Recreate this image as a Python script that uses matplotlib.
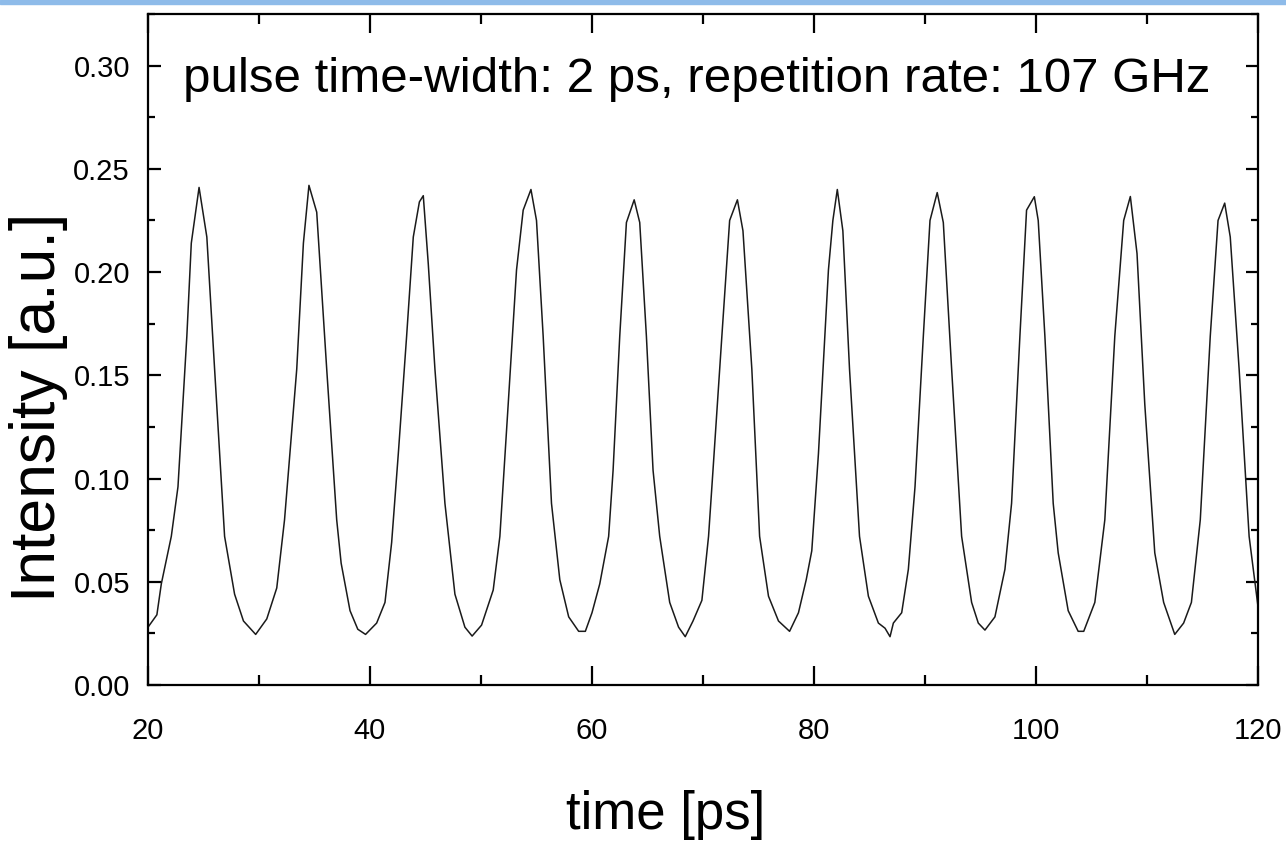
import matplotlib
matplotlib.use("Agg")
import matplotlib.pyplot as plt
from matplotlib.patches import Rectangle
from matplotlib.ticker import MultipleLocator, FormatStrFormatter

time_ps = [
    20.0, 20.8, 21.2, 22.1, 22.7, 23.5, 23.9, 24.6, 25.3, 26.0, 26.9, 27.8, 28.6,
    29.7, 30.7, 31.6, 32.3, 33.4, 34.0, 34.5, 35.2, 36.1, 37.0, 37.4, 38.2, 38.9,
    39.6, 40.6, 41.35, 41.95, 42.55, 43.3, 43.9, 44.45, 44.8, 45.25, 45.85, 46.75,
    47.65, 48.55, 49.2, 50.05, 51.1, 51.7, 52.45, 53.2, 53.8, 54.5, 55.0, 55.6,
    56.35, 57.1, 57.9, 58.8, 59.4, 60.0, 60.7, 61.5, 61.9, 62.5, 63.1, 63.8, 64.3,
    64.9, 65.5, 66.1, 67.0, 67.8, 68.4, 69.1, 69.9, 70.5, 70.9, 71.7, 72.4, 73.1,
    73.6, 74.4, 75.1, 75.9, 76.8, 77.8, 78.6, 79.3, 79.8, 80.4, 81.3, 81.7, 82.1,
    82.6, 83.2, 84.1, 84.9, 85.8, 86.4, 86.85, 87.15, 87.9, 88.5, 89.1, 89.85,
    90.45, 91.1, 91.65, 92.4, 93.3, 94.2, 94.8, 95.4, 96.3, 97.2, 97.8, 98.55,
    99.15, 99.85, 100.2, 100.8, 101.55, 102.0, 102.9, 103.8, 104.3, 105.3, 106.2,
    107.1, 107.9, 108.5, 109.1, 109.8, 110.7, 111.5, 112.5, 113.3, 114.0, 114.8,
    115.7, 116.4, 117.0, 117.5, 118.3, 119.2, 120.0,
]
intensity = [
    0.028, 0.034, 0.049, 0.072, 0.096, 0.169, 0.214, 0.241, 0.217, 0.153, 0.072,
    0.044, 0.031, 0.0245, 0.032, 0.047, 0.080, 0.153, 0.214, 0.242, 0.229, 0.153,
    0.080, 0.059, 0.036, 0.027, 0.0245, 0.030, 0.040, 0.069, 0.112, 0.169, 0.217,
    0.234, 0.237, 0.204, 0.153, 0.088, 0.044, 0.028, 0.0237, 0.029, 0.046, 0.072,
    0.136, 0.201, 0.230, 0.240, 0.225, 0.169, 0.088, 0.051, 0.033, 0.026, 0.026,
    0.035, 0.049, 0.072, 0.104, 0.169, 0.224, 0.235, 0.224, 0.169, 0.104, 0.072,
    0.040, 0.028, 0.0234, 0.031, 0.041, 0.072, 0.104, 0.169, 0.225, 0.235, 0.220,
    0.153, 0.072, 0.043, 0.031, 0.026, 0.035, 0.051, 0.065, 0.112, 0.201, 0.225,
    0.240, 0.220, 0.153, 0.072, 0.043, 0.030, 0.0275, 0.0234, 0.030, 0.035, 0.056,
    0.096, 0.169, 0.225, 0.2385, 0.224, 0.153, 0.072, 0.040, 0.030, 0.0266, 0.033,
    0.056, 0.088, 0.169, 0.230, 0.2365, 0.225, 0.169, 0.088, 0.064, 0.036, 0.026,
    0.026, 0.040, 0.080, 0.169, 0.225, 0.2366, 0.209, 0.136, 0.064, 0.040, 0.0245,
    0.030, 0.040, 0.080, 0.169, 0.225, 0.2334, 0.217, 0.153, 0.072, 0.038,
]

title_text = "pulse time-width: 2 ps, repetition rate: 107 GHz"
xlabel_text = "time [ps]"
ylabel_text = "Intensity [a.u.]"

plt.rcParams['font.family'] = ['Liberation Sans', 'DejaVu Sans']

fig = plt.figure(figsize=(12.86, 8.48), dpi=100)
ax = fig.add_axes([148 / 1286, 1 - 685 / 848, 1110 / 1286, 671 / 848])

ax.plot(time_ps, intensity, color='#1a1a1a', lw=1.1)

ax.set_xlim(20, 120)
ax.set_ylim(0, 0.325)
ax.xaxis.set_major_locator(MultipleLocator(20))
ax.xaxis.set_minor_locator(MultipleLocator(10))
ax.yaxis.set_major_locator(MultipleLocator(0.05))
ax.yaxis.set_minor_locator(MultipleLocator(0.025))
ax.yaxis.set_major_formatter(FormatStrFormatter('%.2f'))

for s in ax.spines.values():
    s.set_linewidth(1.6)

ax.tick_params(axis='x', which='major', direction='in', top=True, length=14,
               width=1.6, labelsize=21, pad=23)
ax.tick_params(axis='x', which='minor', direction='in', top=True, length=7.5, width=1.6)
ax.tick_params(axis='y', which='major', direction='in', right=True, length=9,
               width=1.6, labelsize=21, pad=13)
ax.tick_params(axis='y', which='minor', direction='in', right=True, length=5, width=1.6)

ax.set_xlabel(xlabel_text, fontsize=38)
ax.xaxis.set_label_coords((666 - 148) / 1110, (685 - 790) / 671)
ax.set_ylabel(ylabel_text, fontsize=45)
ax.yaxis.set_label_coords((68 - 148) / 1110, (685 - 407) / 671)

ax.text(0.0315, 0.903, title_text, transform=ax.transAxes, fontsize=35.5,
        ha='left', va='center')

# thin light-blue band along the top edge
fig.patches.append(Rectangle((0, 1 - 4 / 848), 1, 4 / 848, transform=fig.transFigure,
                             color='#8ebbe9', zorder=5))

fig.savefig("out.png", dpi=100)
